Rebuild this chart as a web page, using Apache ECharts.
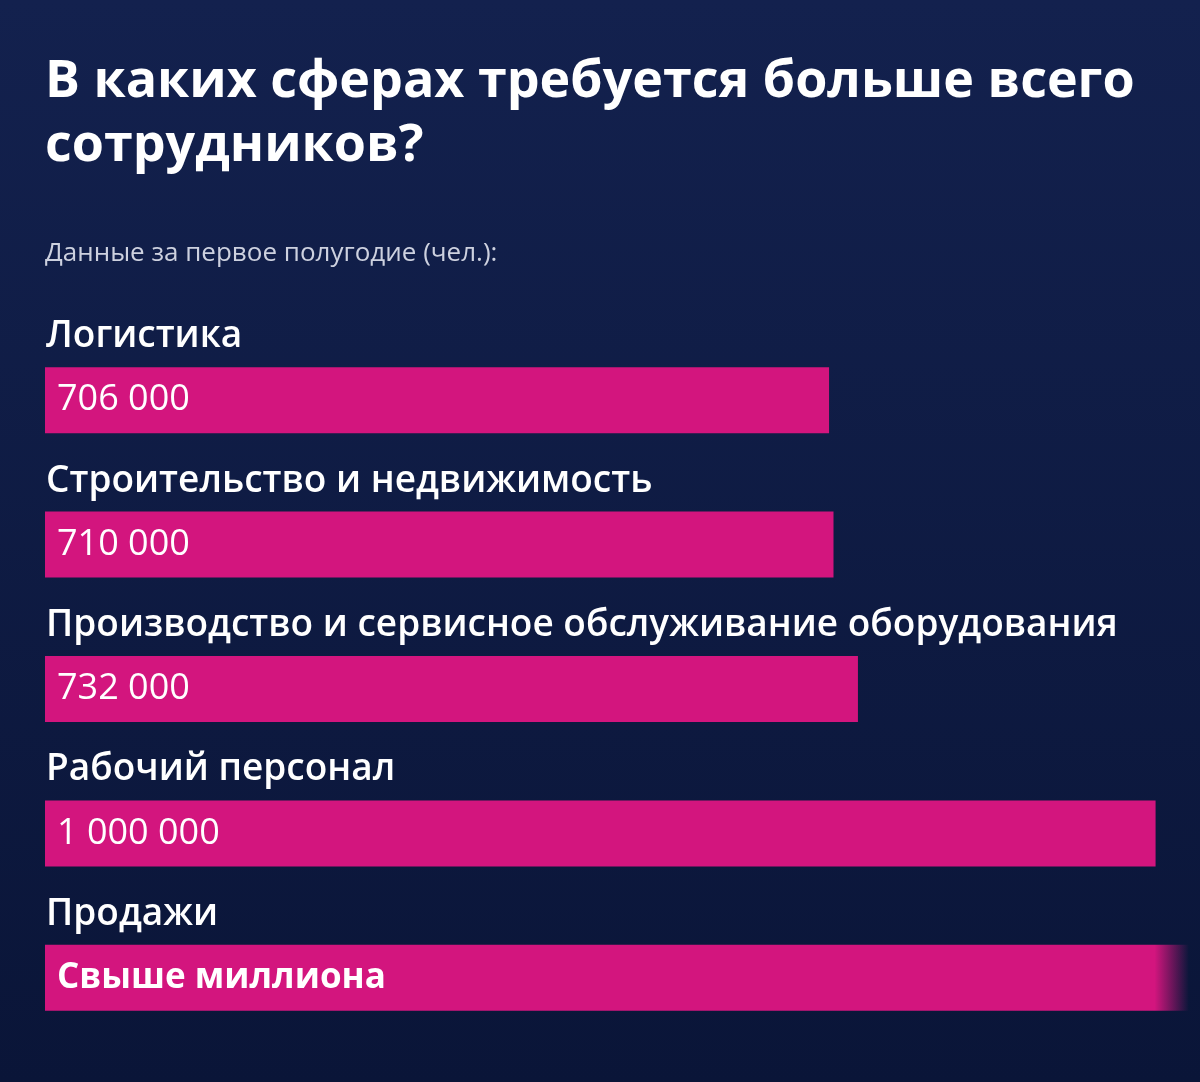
<!DOCTYPE html>
<html lang="ru">
<head>
    <meta charset="UTF-8">
    <title>Сферы</title>
    <style>
        html, body { margin: 0; padding: 0; background: #0f1b44; }
    </style>
    <script src="https://cdn.jsdelivr.net/npm/echarts@6/dist/echarts.min.js"></script>
</head>
<body>
    <div id="main" style="width:1200px;height:1082px"></div>
    <script>
        var categories = ['Логистика', 'Строительство и недвижимость', 'Производство и сервисное обслуживание оборудования', 'Рабочий персонал', 'Продажи'];
        var values = [706000, 710000, 732000, 1000000, 1030000];
        var valueLabels = ['706 000', '710 000', '732 000', '1 000 000', 'Свыше миллиона'];

        var barColor = '#d3157e';
        var font = 'Open Sans';
        var myChart = echarts.init(document.getElementById('main'));

        var data = values.map(function (v, i) {
            var item = { value: v };
            if (i === values.length - 1) {
                // last bar fades out at the right edge
                item.itemStyle = {
                    color: new echarts.graphic.LinearGradient(0, 0, 1, 0, [
                        { offset: 0, color: barColor },
                        { offset: 0.97, color: barColor },
                        { offset: 1, color: 'rgba(211,21,126,0)' }
                    ])
                };
                item.label = { fontWeight: 'bold', fontSize: 35 };
            }
            return item;
        });

        var option = {
            backgroundColor: new echarts.graphic.LinearGradient(0, 0, 0, 1, [
                { offset: 0, color: '#13214e' },
                { offset: 1, color: '#0a1538' }
            ]),
            title: [{
                text: 'В каких сферах требуется больше всего\nсотрудников?',
                left: 40,
                top: 45,
                textStyle: { color: '#ffffff', fontFamily: font, fontWeight: 'bold', fontSize: 52, lineHeight: 64 }
            }, {
                text: 'Данные за первое полугодие (чел.):',
                left: 40,
                top: 236,
                textStyle: { color: '#cdd1df', fontFamily: font, fontWeight: 'normal', fontSize: 26 }
            }],
            grid: { left: 45, right: 0, top: 328, bottom: 32 },
            xAxis: {
                type: 'value',
                min: 0,
                max: 1040000,
                show: false
            },
            yAxis: {
                type: 'category',
                inverse: true,
                data: categories,
                axisLine: { show: false },
                axisTick: { show: false },
                axisLabel: {
                    inside: true,
                    margin: 1,
                    color: '#ffffff',
                    fontFamily: font,
                    fontWeight: 600,
                    fontSize: 37,
                    verticalAlign: 'bottom',
                    padding: [0, 0, 45, 0]
                }
            },
            series: [{
                type: 'bar',
                data: data,
                barWidth: 66,
                itemStyle: { color: barColor },
                label: {
                    show: true,
                    position: 'insideLeft',
                    distance: 12,
                    color: '#ffffff',
                    fontFamily: font,
                    fontSize: 36,
                    formatter: function (p) { return valueLabels[p.dataIndex]; }
                },
                animation: false
            }]
        };
        myChart.setOption(option);
    </script>
</body>
</html>
